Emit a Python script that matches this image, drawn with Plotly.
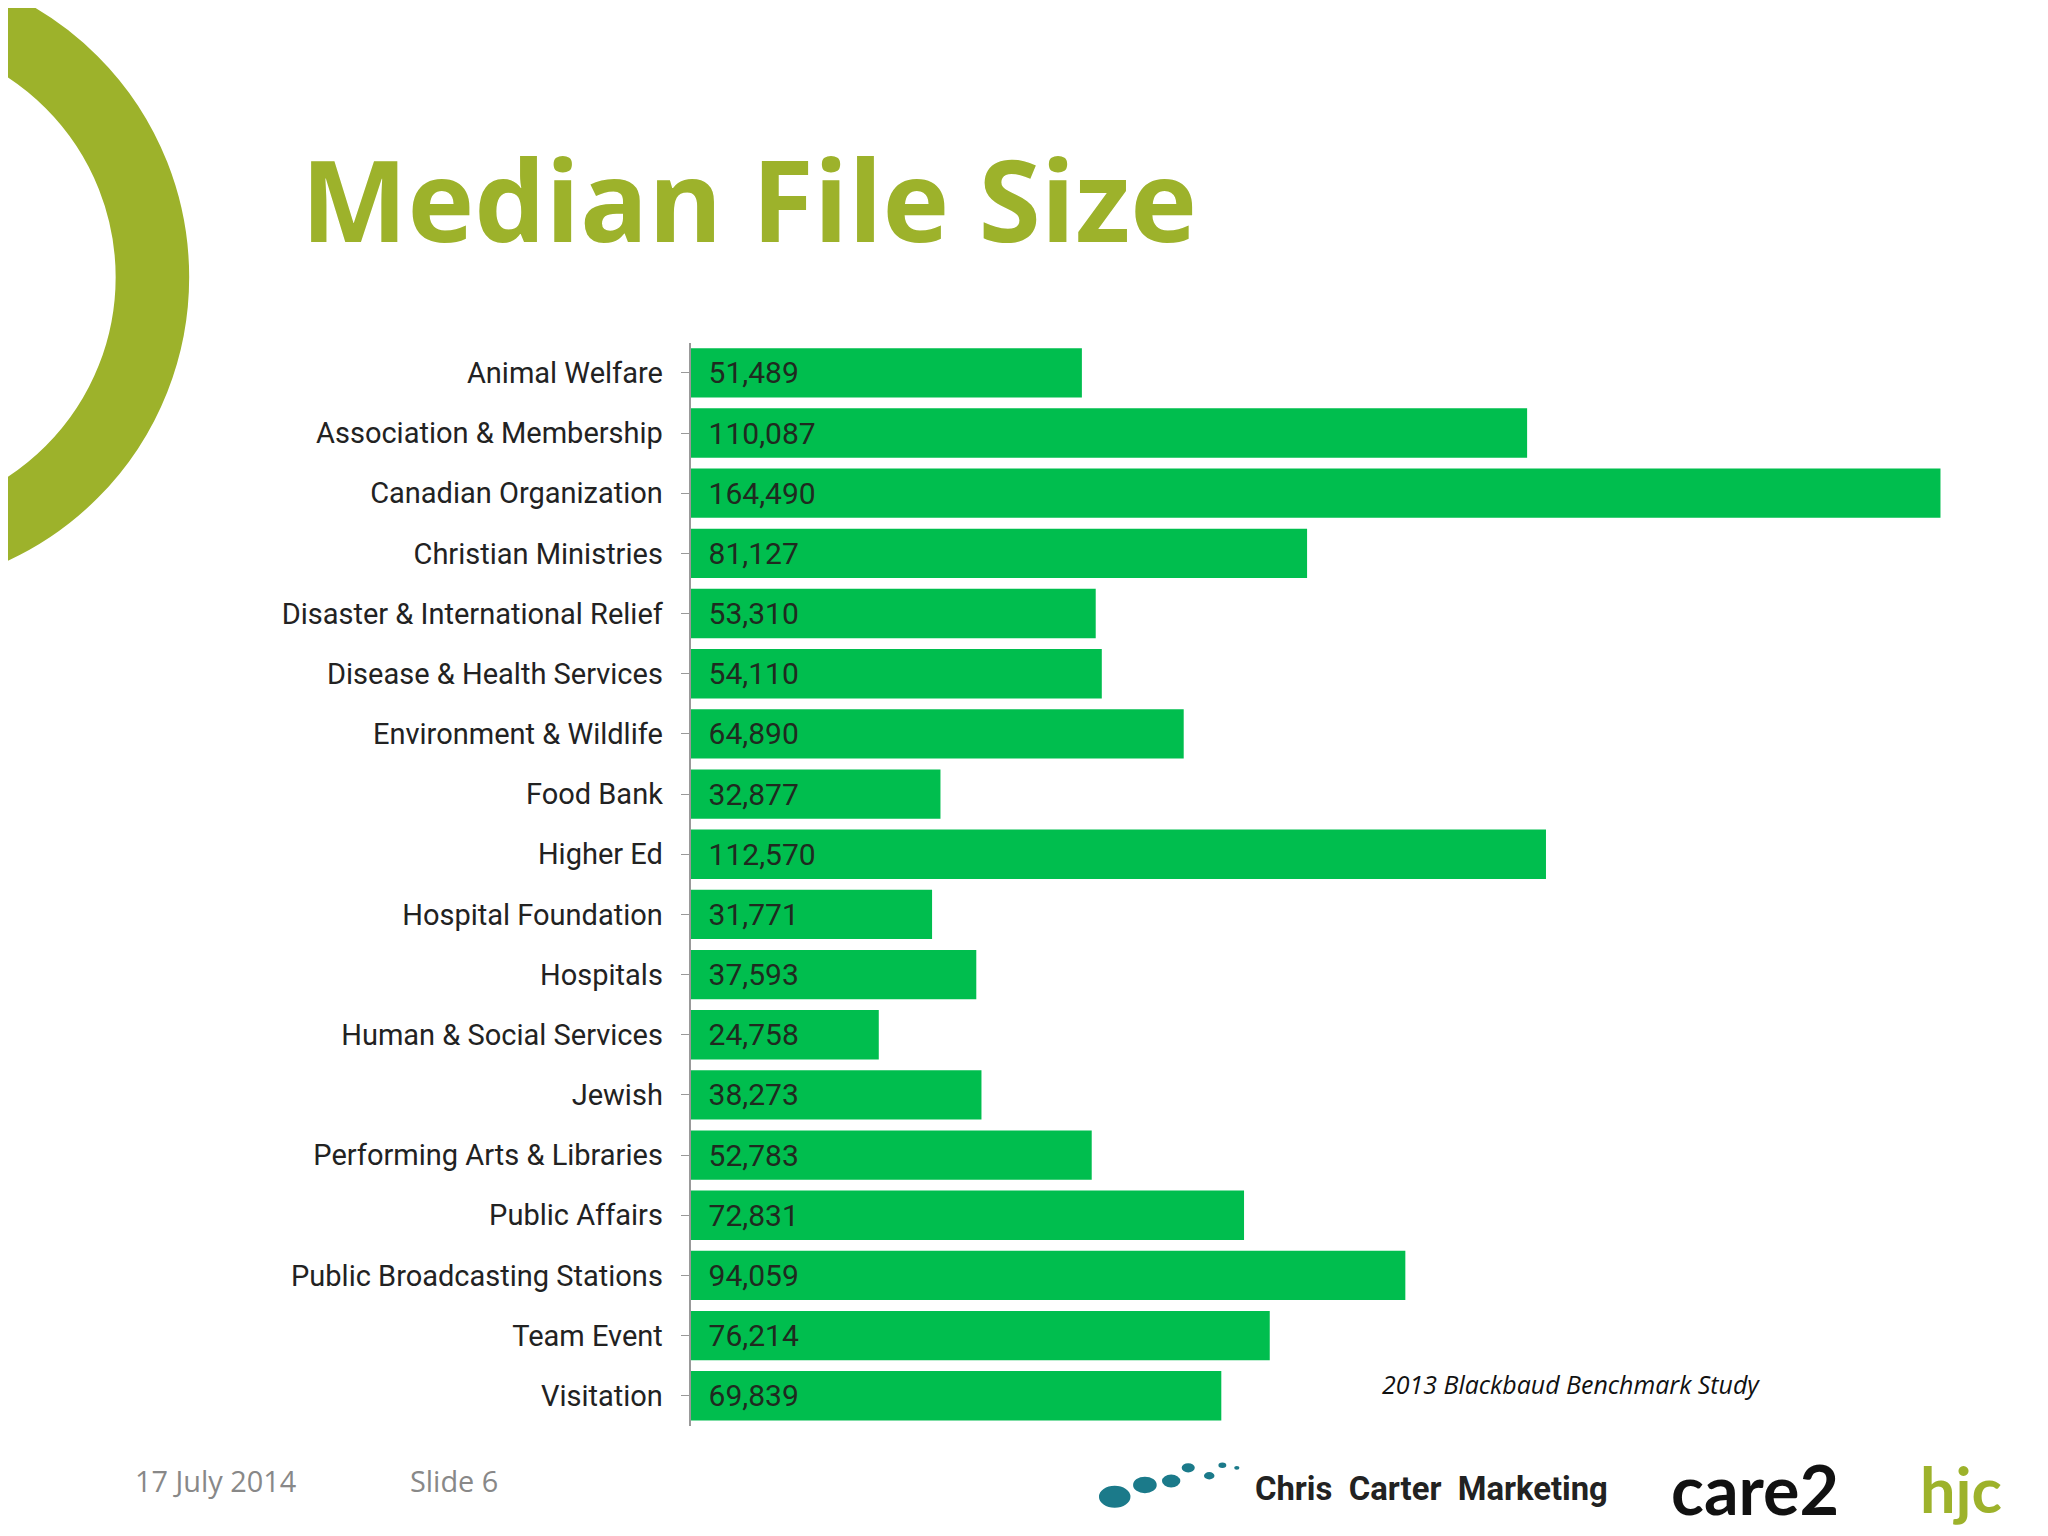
import plotly.graph_objects as go

categories = ["Animal Welfare","Association & Membership","Canadian Organization","Christian Ministries",
"Disaster & International Relief","Disease & Health Services","Environment & Wildlife","Food Bank",
"Higher Ed","Hospital Foundation","Hospitals","Human & Social Services","Jewish",
"Performing Arts & Libraries","Public Affairs","Public Broadcasting Stations","Team Event","Visitation"]
values = [51489,110087,164490,81127,53310,54110,64890,32877,112570,31771,37593,24758,38273,52783,72831,94059,76214,69839]

W, H = 2048, 1536
RW, RH = 1560, 1170
S = W / RW
def px(x): return x / RW
def py(y): return 1 - y / RH

font = "Liberation Sans Narrow, Roboto, Liberation Sans, Arial"
fig = go.Figure(go.Bar(
    x=values, y=categories, orientation="h",
    marker=dict(color="#00BE4E", line=dict(width=0)),
    text=[f"  {v:,}" for v in values], textposition="inside", insidetextanchor="start",
    textfont=dict(family=font, size=30, color="#1f2a1f"), cliponaxis=False,
))
fig.update_layout(
    width=W, height=H, paper_bgcolor="white", plot_bgcolor="white",
    margin=dict(l=0, r=0, t=0, b=0), showlegend=False, bargap=0.18,
    xaxis=dict(domain=[px(520), px(1490)], range=[0, 164490 * 970 / 952], visible=False),
    yaxis=dict(domain=[py(1080), py(255)], autorange="reversed", showline=True,
               linecolor="#999999", linewidth=2, ticks="outside", ticklen=8, tickcolor="#999999",
               tickfont=dict(family=font, size=29, color="#222222"), ticklabelstandoff=12),
)
cx, cy, r, lw = -100, 205, 210, 56
fig.add_shape(type="circle", xref="paper", yref="paper",
              x0=px(cx - r), x1=px(cx + r), y0=py(cy + r), y1=py(cy - r),
              line=dict(color="#9DB22B", width=lw * S), layer="above")
def txt(x, y, s, size, color, anchor="left", **kw):
    fig.add_annotation(x=px(x), y=py(y), xref="paper", yref="paper", text=s, showarrow=False,
                       xanchor=anchor, yanchor="middle", font=dict(size=size * S, color=color, family=kw.pop("family", "Open Sans")), **kw)
txt(222, 145, "<b>Median File Size</b>", 86, "#9DB22B")
txt(1045, 1048, "<i>2013 Blackbaud Benchmark Study</i>", 19, "#111111", family="Open Sans")
txt(95, 1122, "17 July 2014", 22, "#888888")
txt(305, 1122, "Slide 6", 22, "#888888")
txt(948, 1128, "<b>Chris  Carter  Marketing</b>", 25, "#222222", family=font)
txt(1265, 1128, "<b>care2</b>", 52, "#111111", family="Lato")
txt(1455, 1128, "<b>hjc</b>", 48, "#9DB22B", family="Lato")
for (x, y, rr, c) in [(843, 1134, 12, "#1b7a8a"), (866, 1125, 9, "#1b7a8a"), (886, 1122, 7, "#1b7a8a"),
                      (899, 1112, 5, "#1b7a8a"), (915, 1118, 4, "#1b7a8a"), (925, 1110, 3, "#1b7a8a"), (936, 1112, 2, "#1b7a8a")]:
    fig.add_shape(type="circle", xref="paper", yref="paper", x0=px(x - rr), x1=px(x + rr),
                  y0=py(y + rr * 0.7), y1=py(y - rr * 0.7), fillcolor=c, line=dict(width=0))
fig.write_html("out.html")
